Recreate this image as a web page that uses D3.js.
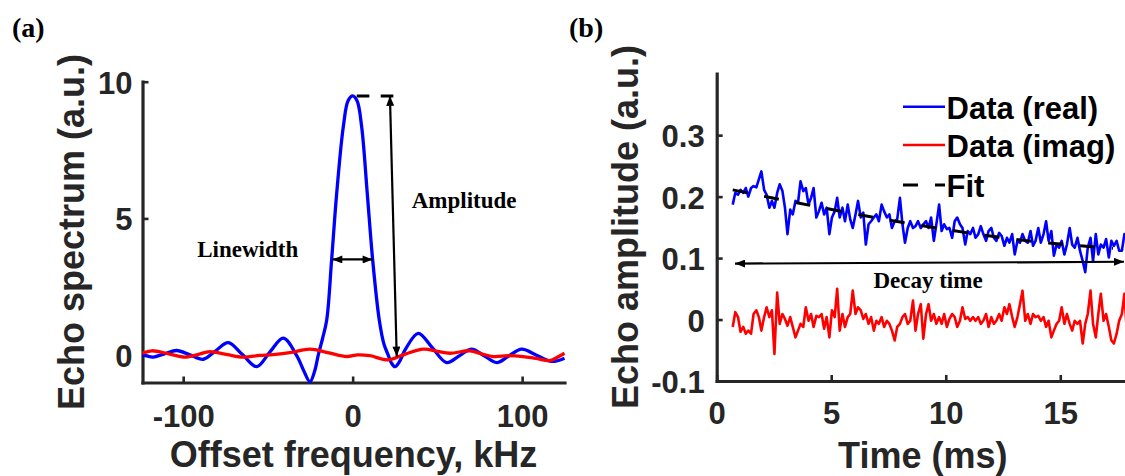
<!DOCTYPE html>
<html>
<head>
<meta charset="utf-8">
<script src="https://cdn.jsdelivr.net/npm/d3@7.9.0/dist/d3.min.js"></script>
<style>
  html, body { margin: 0; padding: 0; background: #fff; }
  svg { display: block; }
  .tick text { font-family: "Liberation Sans", Arial, sans-serif; font-weight: bold; font-size: 31px; fill: #262626; }
  .lab { font-family: "Liberation Sans", Arial, sans-serif; font-weight: bold; font-size: 36px; fill: #262626; }
  .leg { font-family: "Liberation Sans", Arial, sans-serif; font-weight: bold; font-size: 31px; fill: #000; }
  .note { font-family: "Liberation Serif", "Times New Roman", serif; font-weight: bold; font-size: 23px; fill: #000; }
  .panel { font-family: "Liberation Serif", "Times New Roman", serif; font-weight: bold; font-size: 28px; fill: #000; }
</style>
</head>
<body>
<svg id="chart" width="1125" height="476"></svg>
<script>
// ---- panel (a): echo spectrum ----
const realFreq = [-124, -121, -117.6, -111, -103.8, -96, -88.1, -81, -73.4, -65, -56.6, -49, -40.9, -33, -29, -25.2, -22.5, -20.3, -17.8, -15.3, -12.4, -9.4, -5.5, -2.7, 0, 2.6, 5.3, 8.6, 11.8, 15.7, 18.5, 21, 23, 25, 27.5, 31, 38.7, 47, 55.4, 63, 70.2, 77.6, 85, 92.3, 99.7, 108.5, 117.4, 125];
const realSpec = [0.02, -0.04, -0.07, 0.05, 0.17, 0.01, -0.15, 0.15, 0.46, 0.02, -0.42, 0.1, 0.62, -0.02, -0.55, -0.97, -0.6, 0, 0.6, 1.29, 3.49, 5.93, 8.36, 9.3, 9.48, 9.3, 8.36, 5.93, 3.49, 1.29, 0.4, 0, -0.3, -0.42, -0.25, 0.2, 0.8, 0.27, -0.27, -0.02, 0.22, -0.02, -0.27, -0.02, 0.22, 0, -0.23, -0.11];

const imagFreq = [-124, -118.6, -108, -98.9, -91, -84.2, -74, -64.5, -55, -46.8, -36, -25.2, -14, -3.5, 3, 10.2, 21, 31, 41.7, 50, 57.4, 69.2, 76, 83, 92, 100.6, 108, 116.4, 121, 125];
const imagSpec = [0.07, 0.16, 0.04, -0.07, 0.03, 0.13, 0.02, -0.07, -0.01, 0.02, 0.1, 0.22, 0.08, -0.05, 0.01, -0.02, -0.17, 0.04, 0.22, 0.14, 0.07, 0.16, 0.05, -0.05, -0.02, -0.05, -0.12, -0.2, -0.07, 0.07];

const freqTicks = [-100, 0, 100];
const specTicks = [0, 5, 10];

// ---- panel (b): echo decay ----
const timeMs = [0.70, 0.81, 0.93, 1.04, 1.16, 1.27, 1.38, 1.50, 1.61, 1.73, 1.84, 1.95, 2.07, 2.18, 2.30, 2.41, 2.52, 2.64, 2.75, 2.87,
  2.98, 3.09, 3.21, 3.32, 3.44, 3.55, 3.66, 3.78, 3.89, 4.01, 4.12, 4.23, 4.35, 4.46, 4.58, 4.69, 4.80, 4.92, 5.03, 5.15,
  5.26, 5.37, 5.49, 5.60, 5.72, 5.83, 5.94, 6.06, 6.17, 6.29, 6.40, 6.51, 6.63, 6.74, 6.86, 6.97, 7.08, 7.20, 7.31, 7.43,
  7.54, 7.65, 7.77, 7.88, 8.00, 8.11, 8.22, 8.34, 8.45, 8.57, 8.68, 8.79, 8.91, 9.02, 9.14, 9.25, 9.36, 9.48, 9.59, 9.71,
  9.82, 9.93, 10.05, 10.16, 10.28, 10.39, 10.50, 10.62, 10.73, 10.85, 10.96, 11.07, 11.19, 11.30, 11.42, 11.53, 11.64, 11.76, 11.87, 11.99,
  12.10, 12.21, 12.33, 12.44, 12.56, 12.67, 12.78, 12.90, 13.01, 13.13, 13.24, 13.35, 13.47, 13.58, 13.70, 13.81, 13.92, 14.04, 14.15, 14.27,
  14.38, 14.49, 14.61, 14.72, 14.84, 14.95, 15.06, 15.18, 15.29, 15.41, 15.52, 15.63, 15.75, 15.86, 15.98, 16.09, 16.20, 16.32, 16.43, 16.55,
  16.66, 16.77, 16.89, 17.00, 17.12, 17.23, 17.34, 17.46, 17.57, 17.69, 17.80, 17.91, 18.03];

const echoReal = [0.187, 0.206, 0.203, 0.211, 0.206, 0.214, 0.2, 0.214, 0.217, 0.215, 0.228, 0.241, 0.211, 0.203, 0.182, 0.193, 0.182, 0.206, 0.22, 0.209,
  0.182, 0.139, 0.179, 0.171, 0.193, 0.19, 0.225, 0.209, 0.214, 0.187, 0.198, 0.214, 0.166, 0.176, 0.19, 0.171, 0.182, 0.139, 0.166, 0.176,
  0.198, 0.166, 0.182, 0.16, 0.187, 0.163, 0.149, 0.171, 0.193, 0.166, 0.174, 0.122, 0.155, 0.16, 0.166, 0.171, 0.16, 0.187, 0.176, 0.166,
  0.171, 0.149, 0.16, 0.163, 0.198, 0.155, 0.125, 0.149, 0.16, 0.149, 0.152, 0.16, 0.149, 0.155, 0.16, 0.149, 0.166, 0.128, 0.155, 0.187,
  0.144, 0.155, 0.147, 0.149, 0.133, 0.16, 0.166, 0.155, 0.149, 0.122, 0.144, 0.139, 0.149, 0.133, 0.139, 0.152, 0.139, 0.128, 0.144, 0.149,
  0.133, 0.128, 0.141, 0.136, 0.12, 0.133, 0.125, 0.139, 0.106, 0.128, 0.125, 0.139, 0.128, 0.125, 0.144, 0.12, 0.128, 0.149, 0.125, 0.139,
  0.16, 0.128, 0.144, 0.104, 0.122, 0.117, 0.128, 0.106, 0.122, 0.149, 0.122, 0.117, 0.133, 0.112, 0.095, 0.077, 0.117, 0.133, 0.095, 0.139,
  0.106, 0.122, 0.117, 0.131, 0.101, 0.128, 0.12, 0.128, 0.112, 0.112, 0.139, 0.13, 0.125];

const echoImag = [-0.012, 0.012, 0.004, -0.02, -0.012, -0.023, -0.018, -0.023, 0.009, 0.015, 0.004, -0.018, 0.004, 0.02, 0.004, 0.015, -0.056, 0.044, -0.007, 0.009,
  0.001, -0.01, 0.004, -0.012, -0.029, -0.018, -0.007, -0.012, 0.02, -0.002, 0.009, -0.012, 0.006, 0.004, 0.009, -0.015, 0.004, -0.029, 0.015, 0.004,
  0.05, -0.018, 0.009, -0.012, 0.004, 0.009, 0.047, 0.009, 0.02, 0.015, 0.001, 0.009, -0.007, 0.004, -0.018, -0.002, -0.007, 0.004, -0.012, -0.002,
  -0.007, -0.018, -0.034, -0.012, -0.007, 0.004, 0.009, -0.007, -0.002, 0.031, -0.018, 0.009, 0.025, -0.031, 0.009, 0.025, -0.002, 0.009, -0.007, 0.004,
  -0.007, 0.009, -0.012, 0.001, 0.009, 0.004, -0.012, -0.002, 0.02, 0.001, 0.004, -0.002, 0.004, -0.002, 0.004, -0.007, -0.002, 0.009, -0.012, 0.004,
  -0.007, -0.002, 0.009, -0.002, 0.02, 0.009, 0.025, 0.004, -0.012, 0.004, 0.025, 0.047, -0.002, 0.009, -0.007, 0.009, 0.004, 0.006, -0.002, 0.004,
  -0.012, -0.002, -0.029, -0.018, -0.007, -0.002, 0.02, -0.007, 0.009, -0.007, -0.018, -0.002, -0.007, -0.002, -0.039, -0.007, 0.009, 0.047, -0.007, -0.029,
  0.009, 0.042, -0.002, 0.009, -0.012, -0.034, -0.039, -0.023, -0.002, 0.009, 0.042, -0.023, 0.009];

const fitTime = [0.7, 3.5, 8.6, 13.6, 17.3];
const fitAmp = [0.211, 0.19, 0.155, 0.128, 0.116];

const timeTicks = [0, 5, 10, 15];
const ampTicks = [-0.1, 0, 0.1, 0.2, 0.3];

const axisColor = '#262626';
const svg = d3.select('#chart');

const defs = svg.append('defs');
defs.append('marker')
  .attr('id', 'head')
  .attr('viewBox', '0 0 10 8')
  .attr('refX', 10)
  .attr('refY', 4)
  .attr('markerUnits', 'userSpaceOnUse')
  .attr('markerWidth', 11)
  .attr('markerHeight', 8)
  .attr('orient', 'auto-start-reverse')
  .append('path')
  .attr('d', 'M0,0 L10,4 L0,8 Z')
  .attr('fill', '#000');

// matlab-style labels: plain hyphen for negatives
const plain = (d) => String(d);

function drawAxes(x, y, xTicks, yTicks, xPad, yPad) {
  const gx = svg.append('g')
    .attr('transform', `translate(0,${y.range()[0]})`)
    .style('color', axisColor)
    .call(d3.axisBottom(x).tickValues(xTicks).tickSizeInner(-6).tickSizeOuter(0).tickPadding(xPad).tickFormat(plain));
  const gy = svg.append('g')
    .attr('transform', `translate(${x.range()[0]},0)`)
    .style('color', axisColor)
    .call(d3.axisLeft(y).tickValues(yTicks).tickSizeInner(-6).tickSizeOuter(0).tickPadding(yPad).tickFormat(plain));
  [gx, gy].forEach((g) => {
    g.select('.domain').attr('stroke-width', 3.2).attr('stroke-linecap', 'square');
    g.selectAll('.tick line').attr('stroke-width', 2.6);
  });
  gy.selectAll('.tick text').attr('dy', '0.37em');
}

// panel (a)
const xA = d3.scaleLinear().domain([-124, 125]).range([142.5, 564.5]);
const yA = d3.scaleLinear().domain([-1, 10]).range([382.5, 81.7]);

drawAxes(xA, yA, freqTicks, specTicks, 22, 10);

const smooth = d3.line()
  .x((d) => xA(d[0]))
  .y((d) => yA(d[1]))
  .curve(d3.curveCatmullRom.alpha(0.5));

svg.append('path')
  .attr('d', smooth(realFreq.map((f, i) => [f, realSpec[i]])))
  .attr('fill', 'none')
  .attr('stroke', '#0000ff')
  .attr('stroke-width', 3.3);

svg.append('path')
  .attr('d', smooth(imagFreq.map((f, i) => [f, imagSpec[i]])))
  .attr('fill', 'none')
  .attr('stroke', '#ff0000')
  .attr('stroke-width', 3.3);

// annotations (a)
svg.append('line')
  .attr('x1', xA(2.4)).attr('x2', xA(24.4))
  .attr('y1', yA(9.48)).attr('y2', yA(9.48))
  .attr('stroke', '#000').attr('stroke-width', 3)
  .attr('stroke-dasharray', '12.6,11.4');

svg.append('line')
  .attr('x1', xA(22)).attr('y1', yA(9.48))
  .attr('x2', xA(26)).attr('y2', yA(-0.05))
  .attr('stroke', '#000').attr('stroke-width', 2.2)
  .attr('marker-start', 'url(#head)')
  .attr('marker-end', 'url(#head)');

svg.append('line')
  .attr('x1', xA(-12)).attr('y1', yA(3.5))
  .attr('x2', xA(11.8)).attr('y2', yA(3.5))
  .attr('stroke', '#000').attr('stroke-width', 2.2)
  .attr('marker-start', 'url(#head)')
  .attr('marker-end', 'url(#head)');

svg.append('text').attr('class', 'note')
  .attr('x', 247.7).attr('y', 257).attr('text-anchor', 'middle')
  .text('Linewidth');

svg.append('text').attr('class', 'note')
  .attr('x', 411.7).attr('y', 208)
  .text('Amplitude');

svg.append('text').attr('class', 'lab')
  .attr('x', 353.5).attr('y', 467).attr('text-anchor', 'middle')
  .text('Offset frequency, kHz');

svg.append('text').attr('class', 'lab')
  .attr('transform', 'translate(84,232) rotate(-90)')
  .attr('text-anchor', 'middle')
  .text('Echo spectrum (a.u.)');

svg.append('text').attr('class', 'panel')
  .attr('x', 12).attr('y', 37).text('(a)');

// panel (b)
const xB = d3.scaleLinear().domain([0, 18]).range([716.7, 1129]);
const yB = d3.scaleLinear().domain([-0.1, 0.4]).range([381, 73.7]);

drawAxes(xB, yB, timeTicks, ampTicks, 21, 12);

const raw = d3.line()
  .x((d) => xB(d[0]))
  .y((d) => yB(d[1]));

svg.append('path')
  .attr('d', raw(timeMs.map((t, i) => [t, echoReal[i]])))
  .attr('fill', 'none')
  .attr('stroke', '#0000ff')
  .attr('stroke-width', 2.6)
  .attr('stroke-linejoin', 'round');

svg.append('path')
  .attr('d', raw(timeMs.map((t, i) => [t, echoImag[i]])))
  .attr('fill', 'none')
  .attr('stroke', '#ff0000')
  .attr('stroke-width', 2.6)
  .attr('stroke-linejoin', 'round');

svg.append('path')
  .attr('d', raw.curve(d3.curveMonotoneX)(fitTime.map((t, i) => [t, fitAmp[i]])))
  .attr('fill', 'none')
  .attr('stroke', '#000')
  .attr('stroke-width', 3)
  .attr('stroke-dasharray', '15,17');

svg.append('line')
  .attr('x1', xB(0.8)).attr('y1', yB(0.091))
  .attr('x2', 1124).attr('y2', yB(0.094))
  .attr('stroke', '#000').attr('stroke-width', 2.2)
  .attr('marker-start', 'url(#head)')
  .attr('marker-end', 'url(#head)');

svg.append('text').attr('class', 'note')
  .attr('x', 928).attr('y', 288).attr('text-anchor', 'middle')
  .text('Decay time');

// legend
const legend = [
  { name: 'Data (real)', color: '#0000ff', dash: null, y: 106.7 },
  { name: 'Data (imag)', color: '#ff0000', dash: null, y: 145 },
  { name: 'Fit', color: '#000', dash: '15,17,11,100', y: 185 }
];
legend.forEach((d) => {
  svg.append('line')
    .attr('x1', 903).attr('x2', 945)
    .attr('y1', d.y).attr('y2', d.y)
    .attr('stroke', d.color)
    .attr('stroke-width', d.dash ? 3 : 2.6)
    .attr('stroke-dasharray', d.dash);
  svg.append('text').attr('class', 'leg')
    .attr('x', 946.5).attr('y', d.y + 12)
    .text(d.name);
});

svg.append('text').attr('class', 'lab')
  .attr('x', 922.8).attr('y', 468).attr('text-anchor', 'middle')
  .text('Time (ms)');

svg.append('text').attr('class', 'lab')
  .attr('transform', 'translate(638,227) rotate(-90)')
  .attr('text-anchor', 'middle')
  .text('Echo amplitude (a.u.)');

svg.append('text').attr('class', 'panel')
  .attr('x', 569).attr('y', 37).text('(b)');
</script>
</body>
</html>
